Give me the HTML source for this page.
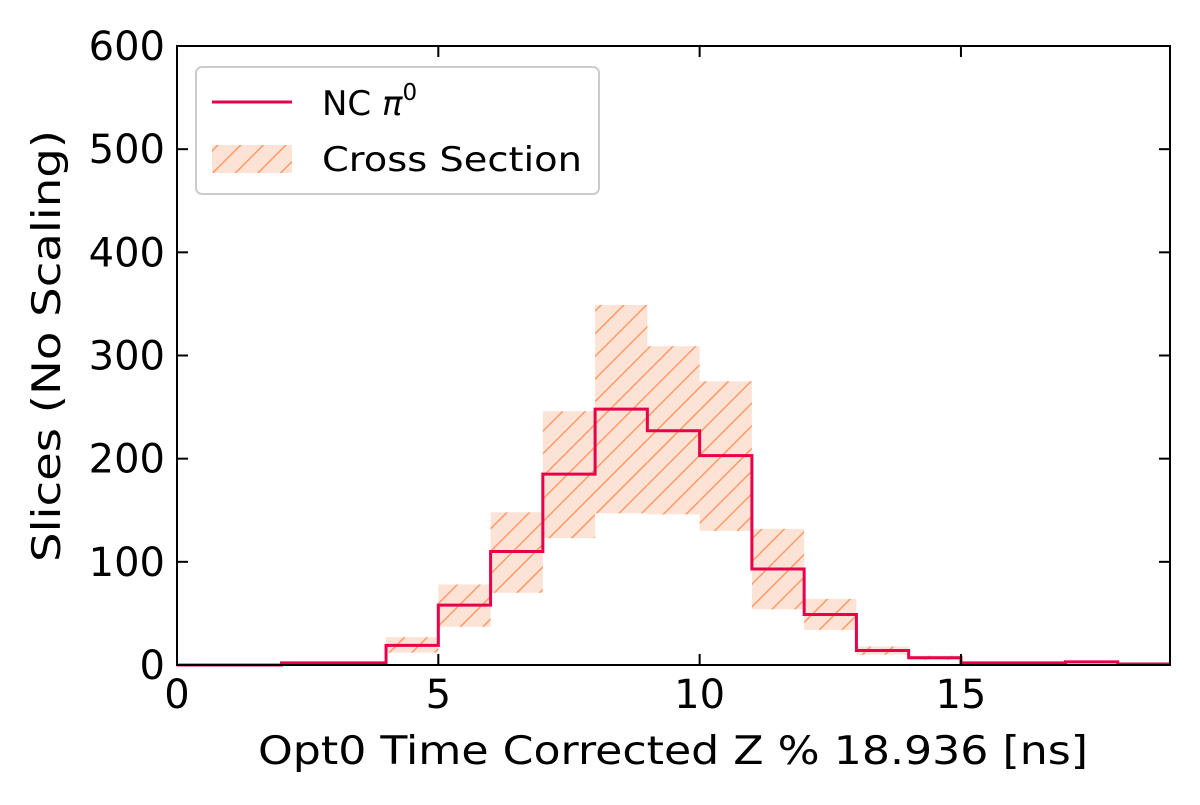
<!DOCTYPE html>
<html><head><meta charset="utf-8"><style>
body{margin:0;background:#fff;width:1200px;height:800px;overflow:hidden}
text{font-family:"DejaVu Sans","Liberation Sans",sans-serif;fill:#000}
</style></head><body>
<svg id="chart" width="1200" height="800" xmlns="http://www.w3.org/2000/svg">
<defs>
<pattern id="hatch" patternUnits="userSpaceOnUse" width="16" height="16" patternTransform="rotate(45)">
<rect width="16" height="16" fill="#fde3d6"/>
<line x1="0" y1="0" x2="0" y2="16" stroke="#ff9a66" stroke-width="3"/>
</pattern>
</defs>
<g id="bands"></g>
<g id="line"></g>
<rect x="177" y="46" width="993" height="619" fill="none" stroke="#000" stroke-width="2"/>
<g id="ticks"></g>
<text x="673" y="764" font-size="39" text-anchor="middle" textLength="830" lengthAdjust="spacingAndGlyphs">Opt0 Time Corrected Z % 18.936 [ns]</text>
<text transform="translate(60,346) rotate(-90)" font-size="39" text-anchor="middle" textLength="432" lengthAdjust="spacingAndGlyphs">Slices (No Scaling)</text>
<g>
<rect x="196" y="67" width="403" height="127" rx="6" fill="#fff" stroke="#ccc" stroke-width="2"/>
<line x1="212" y1="102" x2="292" y2="102" stroke="#e8004a" stroke-width="3"/>
<text x="322" y="115" font-size="34">NC <tspan font-style="italic">π</tspan><tspan font-size="23" dy="-15">0</tspan></text>
<rect x="212" y="145" width="80" height="28" fill="url(#hatch)"/>
<text x="322" y="171" font-size="34" textLength="260" lengthAdjust="spacingAndGlyphs">Cross Section</text>
</g>
</svg>
<script>
const binEdges=[0,1,2,3,4,5,6,7,8,9,10,11,12,13,14,15,16,17,18,19];
const counts=[0,0,2,2,19,58,110,185,248,227,203,93,49,14,7,2,2,3,1];
const bandLow=[0,0,1,1,12,37,70,123,147,146,130,54,34,10,5,1,1,2,0];
const bandHigh=[0,0,3,3,27,78,148,246,349,309,275,132,64,18,9,3,3,4,1];
const xTicks=[0,5,10,15];
const yTicks=[0,100,200,300,400,500,600];
const X=v=>177+v*(993/19), Y=v=>665-v*(619/600);
const ns="http://www.w3.org/2000/svg";
const bands=document.getElementById('bands');
for(let i=0;i<counts.length;i++){
 if(bandHigh[i]-bandLow[i]<=0.5)continue;
 const r=document.createElementNS(ns,'rect');
 
 
 r.setAttribute('x',X(binEdges[i]));r.setAttribute('width',X(binEdges[i+1])-X(binEdges[i]));
 r.setAttribute('y',Y(bandHigh[i]));r.setAttribute('height',Y(bandLow[i])-Y(bandHigh[i]));
 r.setAttribute('fill','url(#hatch)');bands.appendChild(r);
}
let d='M'+X(binEdges[0])+','+Y(counts[0]);
for(let i=0;i<counts.length;i++){d+=' L'+X(binEdges[i])+','+Y(counts[i])+' L'+X(binEdges[i+1])+','+Y(counts[i]);}
const p=document.createElementNS(ns,'path');


p.setAttribute('d',d);p.setAttribute('fill','none');p.setAttribute('stroke','#e8004a');p.setAttribute('stroke-width','3');
document.getElementById('line').appendChild(p);
const tg=document.getElementById('ticks');
function ln(x1,y1,x2,y2){const l=document.createElementNS(ns,'line');l.setAttribute('x1',x1);l.setAttribute('y1',y1);l.setAttribute('x2',x2);l.setAttribute('y2',y2);l.setAttribute('stroke','#000');l.setAttribute('stroke-width','2');tg.appendChild(l);}
xTicks.forEach(v=>{const x=X(v);ln(x,665,x,654);ln(x,46,x,57);
 const t=document.createElementNS(ns,'text');
 
 
 t.setAttribute('x',x);t.setAttribute('y',708);t.setAttribute('font-size','40');t.setAttribute('text-anchor','middle');t.textContent=v;tg.appendChild(t);});
yTicks.forEach(v=>{const y=Y(v);ln(177,y,188,y);ln(1170,y,1159,y);
 const t=document.createElementNS(ns,'text');
 
 
 t.setAttribute('x',165);t.setAttribute('y',y+14);t.setAttribute('font-size','40');t.setAttribute('text-anchor','end');t.textContent=v;tg.appendChild(t);});
</script>
</body></html>
